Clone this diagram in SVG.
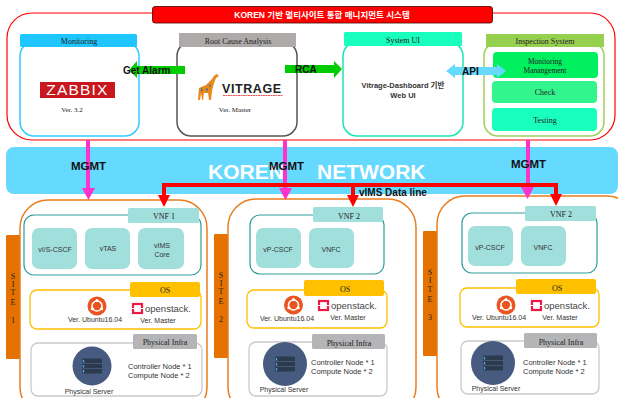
<svg xmlns="http://www.w3.org/2000/svg" width="618" height="398" viewBox="0 0 618 398">
<style>
text{font-family:"Liberation Sans","Noto Sans CJK KR",sans-serif;fill:#333}
.s{font-family:"Liberation Serif","Noto Sans CJK KR",serif;text-anchor:middle;font-size:8px;fill:#222}
.st{font-family:"Liberation Serif",serif;text-anchor:middle;font-size:8px;fill:#222}
.m{text-anchor:middle}
.l{font-size:7.5px;fill:#333}
.v{font-size:7px;text-anchor:middle;fill:#333}
.b{font-weight:bold;fill:#111;font-size:10px}
.g{font-weight:bold;fill:#111;font-size:11.500px}
.box{fill:#fff;stroke-width:1.5}
.site{fill:#fff;stroke:#e87d1e;stroke-width:1.5}
.bar{fill:#e57200}
.vnf{fill:#fff;stroke:#2e9c9c;stroke-width:1.2}
.tl{fill:#a1dfdc}
.os{fill:#fff;stroke:#ffc000;stroke-width:1.3}
.osh{fill:#ffc000}
.inf{fill:#fff;stroke:#c9c9c9;stroke-width:1.3}
.infh{fill:#b5b5b7}
.mg{stroke:#ff33cc;stroke-width:4;fill:none}
.red{stroke:#ff0000;stroke-width:4;fill:none}
.ost{font-size:9.500px;fill:#444}
</style>
<defs>
<g id="srv">
<rect x="-10" y="-7.500" width="20" height="15" rx="1" fill="#2b3a4d"/>
<path d="M-10-2.500H10M-10 2.500H10" stroke="#4a5f7f" stroke-width=".8"/>
<path d="M-8.500-6v2.500M-8.500-1v2.500M-8.500 4v2.500" stroke="#4fa8e0" stroke-width="1.400"/>
</g>
<g id="ub">
<circle r="9.500" fill="#e95420"/>
<circle r="5" fill="none" stroke="#fff" stroke-width="1.600"/>
<circle cx="0" cy="-5.400" r="1.500" fill="#fff"/>
<circle cx="-4.700" cy="2.700" r="1.500" fill="#fff"/>
<circle cx="4.700" cy="2.700" r="1.500" fill="#fff"/>
</g>
<g id="os">
<rect x="1" y="1" width="9" height="9" fill="#fff" stroke="#ed1944" stroke-width="2.200"/>
<path d="M0 5.500H3M8 5.500H11" stroke="#fff" stroke-width="1.200"/>
<text x="13" y="9" class="ost">openstack.</text>
</g>
</defs>

<g id="koren-network">
<rect x="6" y="147" width="612" height="47" rx="8" fill="#66d9ff"/>
<text x="208" y="179" style="fill:#fff;font-size:21px;font-weight:bold">KOREN</text>
<text x="317" y="179" style="fill:#fff;font-size:21px;font-weight:bold">NETWORK</text>
</g>

<g id="management-system">
<rect x="7" y="13" width="608" height="127" rx="25" fill="#fff" stroke="#ff0000" stroke-width="1.200"/>
<rect x="152.500" y="6.500" width="340" height="16.500" rx="2.500" fill="#ff0000" stroke="#400" stroke-width=".8"/>
<text x="322" y="18" class="m" style="fill:#fff;font-size:8.500px;font-weight:bold">KOREN 기반 멀티사이트 통합 매니지먼트 시스템</text>
</g>

<g id="monitoring">
<rect x="20" y="42" width="119" height="94" rx="14" class="box" stroke="#33ccff"/>
<rect x="20" y="34" width="117" height="13" rx="1.500" fill="#1fc6ff"/>
<text x="79" y="44" class="s">Monitoring</text>
<rect x="40" y="82" width="75" height="16" fill="#c8171e"/>
<text x="77.500" y="95" class="m" style="fill:#fff;font-size:15.500px;letter-spacing:1.200px">ZABBIX</text>
<text x="72" y="112" class="s" style="font-size:7px">Ver. 3.2</text>
</g>

<g id="root-cause-analysis">
<rect x="177" y="42" width="120" height="94" rx="14" class="box" stroke="#555"/>
<rect x="179" y="33" width="117" height="14" fill="#aeaaaa"/>
<text x="238" y="44" class="s">Root Cause Analysis</text>
<g id="giraffe">
<path d="M198 100l1-12 7-3 6-6 2-3 1-1 2-1 2 2-3 2-2 5-2 8-1 9h-2l-1-7h-4l-1 7h-1l-1-7-1 7z" fill="#e8891c"/>
<path d="M201 88l2 2-2 2zM206 88l2 1-1 3zM210 84l1 2-2 1z" fill="#2a6fb0"/>
</g>
<text x="222" y="93" style="font-size:12.500px;font-weight:bold;fill:#222;letter-spacing:.6px">VITRAGE</text>
<path d="M223 95.500H283" stroke="#d33" stroke-width=".8" stroke-dasharray="2 .5"/>
<text x="235" y="112" class="s" style="font-size:7px">Ver. Master</text>
</g>

<g id="system-ui">
<rect x="343" y="42" width="120" height="94" rx="14" class="box" stroke="#19e6b3"/>
<rect x="344" y="32" width="118" height="14" rx="1.500" fill="#19ffbe"/>
<text x="403" y="43" class="s">System UI</text>
<text x="403" y="88" class="m" style="font-size:7.500px;font-weight:bold">Vitrage-Dashboard 기반</text>
<text x="403" y="98" class="m" style="font-size:7.500px;font-weight:bold">Web UI</text>
</g>

<g id="inspection-system">
<rect x="484" y="42" width="120" height="94" rx="14" class="box" stroke="#a2cf5e"/>
<rect x="486" y="34" width="118" height="13" fill="#96d04f"/>
<text x="545" y="44" class="s">Inspection System</text>
<rect x="493" y="52" width="105" height="26" rx="4" fill="#00f060"/>
<text x="545" y="64" class="s" style="font-size:7.500px">Monitoring</text>
<text x="545" y="73" class="s" style="font-size:7.500px">Manangement</text>
<rect x="492" y="81" width="105" height="22" rx="4" fill="#33f58e"/>
<text x="545" y="95" class="s">Check</text>
<rect x="492" y="108" width="105" height="23" rx="4" fill="#19ffbe"/>
<text x="545" y="123" class="s">Testing</text>
</g>

<g id="site-1">
<rect x="6" y="235" width="14" height="124" rx="1" class="bar"/>
<text x="13" y="279" class="st">S</text><text x="13" y="287" class="st">I</text><text x="13" y="295" class="st">T</text><text x="13" y="305" class="st">E</text><text x="13" y="323" class="st">1</text>
<rect x="20" y="200" width="187" height="215" rx="28" class="site"/>
<rect x="24" y="215" width="177" height="60" rx="10" class="vnf"/>
<rect x="128" y="208" width="71" height="15" rx="1.500" class="tl"/>
<text x="164" y="219" class="s">VNF 1</text>
<rect x="32" y="228" width="45" height="41" rx="7" class="tl"/>
<text x="55" y="252" class="v">vI/S-CSCF</text>
<rect x="85" y="228" width="45" height="41" rx="7" class="tl"/>
<text x="108" y="251" class="v">vTAS</text>
<rect x="138" y="228" width="46" height="41" rx="7" class="tl"/>
<text x="162" y="248" class="v">vIMS</text><text x="162" y="257" class="v">Core</text>
<rect x="30" y="290" width="171" height="39" rx="7" class="os"/>
<rect x="130" y="282" width="70" height="15" rx="2" class="osh"/>
<text x="165" y="293" class="s">OS</text>
<use href="#ub" x="97" y="306"/>
<text x="95" y="322" class="v">Ver. Ubuntu16.04</text>
<use href="#os" x="132" y="303"/>
<text x="158" y="323" class="v">Ver. Master</text>
<rect x="31" y="343" width="171" height="53" rx="7" class="inf"/>
<rect x="133" y="334" width="64" height="15" rx="1.500" class="infh"/>
<text x="165" y="345" class="s">Physical Infra</text>
<circle cx="92" cy="366" r="19.500" fill="#475a7f"/>
<use href="#srv" x="92" y="366"/>
<text x="89" y="394" class="v">Physical Server</text>
<text x="128" y="369" class="l">Controller Node * 1</text>
<text x="128" y="378" class="l">Compute Node * 2</text>
</g>

<g id="site-2">
<rect x="214" y="234" width="14" height="124" rx="1" class="bar"/>
<text x="221" y="278" class="st">S</text><text x="221" y="286" class="st">I</text><text x="221" y="294" class="st">T</text><text x="221" y="304" class="st">E</text><text x="221" y="322" class="st">2</text>
<rect x="228" y="199" width="188" height="216" rx="28" class="site"/>
<rect x="250" y="215" width="134" height="59" rx="10" class="vnf"/>
<rect x="313" y="207" width="70" height="15" rx="1.500" class="tl"/>
<text x="349" y="219" class="s">VNF 2</text>
<rect x="256" y="228" width="45" height="40" rx="7" class="tl"/>
<text x="278" y="252" class="v">vP-CSCF</text>
<rect x="309" y="228" width="45" height="40" rx="7" class="tl"/>
<text x="331" y="252" class="v">VNFC</text>
<rect x="247" y="290" width="140" height="38" rx="7" class="os"/>
<rect x="304" y="280" width="80" height="16" rx="2" class="osh"/>
<text x="345" y="292" class="s">OS</text>
<use href="#ub" x="293.500" y="305"/>
<text x="287" y="321" class="v">Ver. Ubuntu16.04</text>
<use href="#os" x="318" y="300"/>
<text x="348" y="320" class="v">Ver. Master</text>
<rect x="249" y="342" width="138" height="54" rx="7" class="inf"/>
<rect x="312" y="334" width="73" height="15" rx="1.500" class="infh"/>
<text x="349" y="346" class="s">Physical Infra</text>
<circle cx="285" cy="364" r="22" fill="#475a7f"/>
<use href="#srv" x="285" y="364"/>
<text x="284" y="392" class="v">Physical Server</text>
<text x="311" y="365" class="l">Controller Node * 1</text>
<text x="311" y="374" class="l">Compute Node * 2</text>
</g>

<g id="site-3">
<rect x="423" y="231" width="14" height="125" rx="1" class="bar"/>
<text x="430" y="275" class="st">S</text><text x="430" y="283" class="st">I</text><text x="430" y="292" class="st">T</text><text x="430" y="302" class="st">E</text><text x="430" y="320" class="st">3</text>
<rect x="437" y="196" width="198" height="219" rx="28" class="site"/>
<rect x="462" y="213" width="135" height="60" rx="10" class="vnf"/>
<rect x="525" y="206" width="71" height="15" rx="1.500" class="tl"/>
<text x="561" y="217" class="s">VNF 2</text>
<rect x="468" y="226" width="45" height="40" rx="7" class="tl"/>
<text x="490" y="250" class="v">vP-CSCF</text>
<rect x="521" y="226" width="45" height="40" rx="7" class="tl"/>
<text x="543" y="250" class="v">VNFC</text>
<rect x="460" y="288" width="139" height="39" rx="7" class="os"/>
<rect x="516" y="279" width="80" height="15" rx="2" class="osh"/>
<text x="557" y="291" class="s">OS</text>
<use href="#ub" x="506" y="305"/>
<text x="499" y="320" class="v">Ver. Ubuntu16.04</text>
<use href="#os" x="531" y="300"/>
<text x="560" y="320" class="v">Ver. Master</text>
<rect x="461" y="341" width="138" height="53" rx="7" class="inf"/>
<rect x="524" y="333" width="73" height="15" rx="1.500" class="infh"/>
<text x="561" y="345" class="s">Physical Infra</text>
<circle cx="493" cy="363" r="22" fill="#475a7f"/>
<use href="#srv" x="493" y="363"/>
<text x="496" y="391" class="v">Physical Server</text>
<text x="523" y="365" class="l">Controller Node * 1</text>
<text x="523" y="374" class="l">Compute Node * 2</text>
</g>

<g id="connectors">
<path class="mg" d="M88 140V192"/><path d="M82 188H95L88.500 200z" fill="#ff33cc"/>
<path class="mg" d="M285 140V192"/><path d="M279 188H292L285.500 200z" fill="#ff33cc"/>
<path class="mg" d="M528 140V192"/><path d="M521 187H534L527.500 199z" fill="#ff33cc"/>
<path class="red" d="M164 197V185H556V197"/>
<path class="red" d="M353 185V197"/>
<path d="M158 195H170L164 207z" fill="#ff0000"/>
<path d="M347 195H359L353 207z" fill="#ff0000"/>
<path d="M550 194H562L556 206z" fill="#ff0000"/>
<path d="M185 66H137V61L129 70L137 78V74H185z" fill="#00cc00"/>
<path d="M285 65H334V61L342 69L334 78V73H285z" fill="#00cc00"/>
<path d="M446 71L455 64V67H497V64L506 71L497 78V75H455V78z" fill="#66d9ff"/>
</g>

<g id="connector-labels">
<text x="123" y="74" class="b">Get Alarm</text>
<text x="295" y="73" class="b">RCA</text>
<text x="462" y="75" class="b">API</text>
<text x="71" y="170" class="g">MGMT</text>
<text x="269" y="170" class="g">MGMT</text>
<text x="511" y="168" class="g">MGMT</text>
<text x="359" y="196" class="b">vIMS Data line</text>
</g>
</svg>
